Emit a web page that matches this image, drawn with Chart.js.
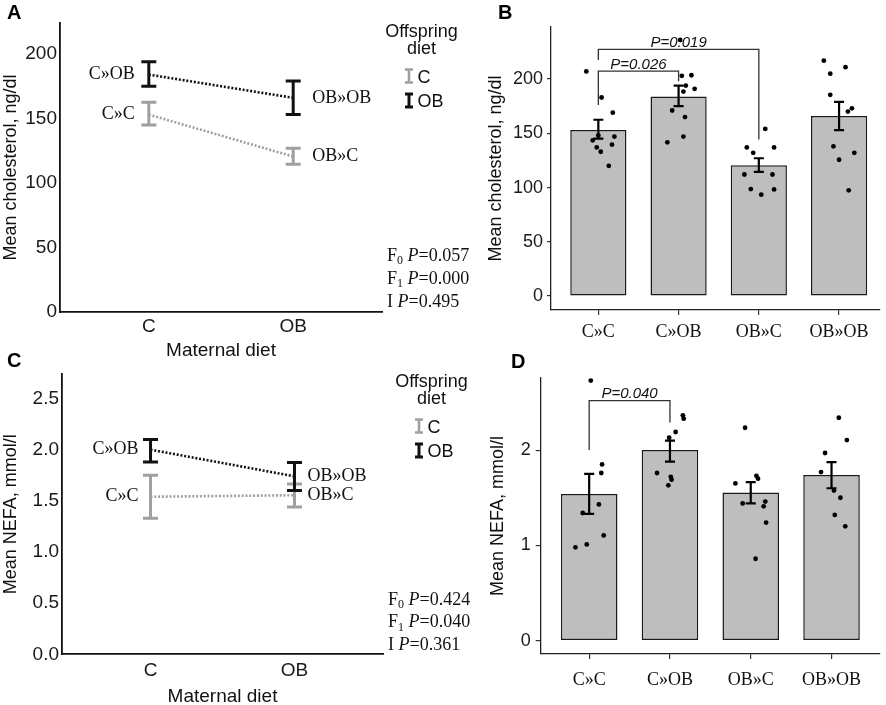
<!DOCTYPE html>
<html>
<head>
<meta charset="utf-8">
<script src="https://cdn.jsdelivr.net/npm/chart.js@4.4.0/dist/chart.umd.min.js"></script>
<style>
  html, body { margin: 0; padding: 0; background: #fff; }
  #wrap { position: relative; width: 886px; height: 705px; overflow: hidden; }
  canvas { position: absolute; left: 0; top: 0; }
</style>
</head>
<body>
<div id="wrap">
  <canvas id="chartA" width="886" height="705"></canvas>
  <canvas id="chartB" width="886" height="705"></canvas>
  <canvas id="chartC" width="886" height="705"></canvas>
  <canvas id="chartD" width="886" height="705"></canvas>
</div>
<script>
// groups: maternal diet » offspring diet
const groups = ["C»C", "C»OB", "OB»C", "OB»OB"];
const maternalDiet = ["C", "OB"];
const offspringDiet = ["C", "OB"];

// cholesterol, ng/dl (mean and SEM range)
const cholMean = [153, 184, 120.5, 166];
const cholLow = [145, 175, 114.5, 153];
const cholHigh = [162.5, 194, 127, 179];
const cholTicks = [0, 50, 100, 150, 200];
const cholPoints = [
  [207, 183, 169, 143.5, 148, 147, 137, 139.5, 133, 120],
  [236, 203, 203.5, 194, 191, 188.5, 171, 165, 141.7, 147],
  [154, 137, 132, 137, 112, 112, 98.6, 98.3, 93.4],
  [217, 211, 205, 185.5, 173, 170, 138, 132, 125.6, 97.4]
];
const cholJitter = [
  [-0.15, 0.04, 0.18, -0.07, 0, 0.2, -0.02, 0.17, 0.03, 0.13],
  [0.02, 0.04, 0.16, 0.09, 0.2, 0.06, -0.08, 0.08, -0.14, 0.06],
  [0.08, -0.15, -0.07, 0.19, -0.18, 0.17, -0.1, 0.19, 0.03],
  [-0.19, 0.08, -0.11, -0.11, 0.16, 0.11, -0.07, 0.19, 0, 0.12]
];
const cholStats = ["0.057", "0.000", "0.495"];
// [group a, group b, label, bracket top, leg end a, leg end b]
const cholTests = [
  [0, 1, "P=0.026", 207.4, 176, 198],
  [0, 2, "P=0.019", 227.3, 217.5, 144.4]
];

// NEFA, mmol/l
const nefaMean = [1.54, 2.0, 1.555, 1.74];
const nefaLow = [1.33, 1.88, 1.44, 1.6];
const nefaHigh = [1.75, 2.1, 1.665, 1.875];
const nefaTicksC = [0, 0.5, 1, 1.5, 2, 2.5];
const nefaTicksD = [0, 1, 2];
const nefaPoints = [
  [2.73, 1.85, 1.76, 1.43, 1.34, 1.105, 1.01, 0.98],
  [2.365, 2.33, 2.19, 2.13, 1.76, 1.72, 1.69, 1.63],
  [2.235, 1.65, 1.73, 1.70, 1.44, 1.46, 1.41, 1.24, 0.86],
  [2.34, 2.105, 1.97, 1.77, 1.575, 1.50, 1.32, 1.20]
];
const nefaJitter = [
  [0.02, 0.16, 0.15, 0.12, -0.08, 0.18, -0.03, -0.17],
  [0.16, 0.17, 0.07, -0.01, -0.16, 0.01, 0.02, -0.02],
  [-0.07, -0.19, 0.07, 0.09, -0.1, 0.18, 0.16, 0.19, 0.06],
  [0.09, 0.19, -0.08, -0.13, 0.03, 0.11, 0.04, 0.17]
];
const nefaStats = ["0.424", "0.040", "0.361"];
const nefaTests = [[0, 1, "P=0.040", 2.52, 2.0, 2.29]];

const SANS = "'Liberation Sans', Arial, sans-serif";
const SERIF = "'Liberation Serif', 'Times New Roman', serif";
const INK = '#111';
const GREY = '#a0a0a0';

function drawLetter(ctx, l) {
  ctx.font = 'bold 20px ' + SANS;
  ctx.fillStyle = '#000';
  ctx.textAlign = 'left';
  ctx.textBaseline = 'middle';
  ctx.fillText(l[0], l[1], l[2]);
}

// interaction plot (panels A and C)
function interactionPanel(id, o) {
  const color = f => f ? INK : GREY;
  const datasets = offspringDiet.map((d, f) => ({
    label: d,
    data: maternalDiet.map((m, mi) => ({ x: mi + 1, y: o.mean[mi * 2 + f] })),
    borderColor: color(f),
    borderWidth: 2.6,
    borderDash: [2, 1.8],
    pointRadius: 0,
    tension: 0
  }));

  const overlay = {
    id: 'overlay',
    afterDatasetsDraw(chart) {
      const { ctx, scales: { x, y } } = chart;
      ctx.save();
      groups.forEach((g, i) => {
        const mi = Math.floor(i / 2), f = i % 2;
        const px = x.getPixelForValue(mi + 1);
        const yl = y.getPixelForValue(o.low[i]);
        const yh = y.getPixelForValue(o.high[i]);
        ctx.strokeStyle = color(f);
        ctx.lineWidth = 3;
        ctx.beginPath();
        ctx.moveTo(px, yl); ctx.lineTo(px, yh);
        ctx.moveTo(px - 7.5, yl); ctx.lineTo(px + 7.5, yl);
        ctx.moveTo(px - 7.5, yh); ctx.lineTo(px + 7.5, yh);
        ctx.stroke();
        ctx.font = '18px ' + SERIF;
        ctx.fillStyle = INK;
        ctx.textBaseline = 'middle';
        ctx.textAlign = mi ? 'left' : 'right';
        ctx.fillText(g, px + (mi ? o.gap[1] : -o.gap[0]), y.getPixelForValue(o.mean[i]));
      });

      // legend
      const [lx, ly] = o.legend;
      ctx.font = '18px ' + SANS;
      ctx.fillStyle = INK;
      ctx.textAlign = 'center';
      ctx.fillText('Offspring', lx, ly);
      ctx.fillText('diet', lx, ly + 17);
      offspringDiet.forEach((d, f) => {
        const gy = ly + 44 + f * 24.5;
        ctx.strokeStyle = color(f);
        ctx.lineWidth = f ? 3 : 2.6;
        ctx.beginPath();
        ctx.moveTo(lx - 12.5, gy - 6.5); ctx.lineTo(lx - 12.5, gy + 6.5);
        ctx.moveTo(lx - 16.5, gy - 6.5); ctx.lineTo(lx - 8.5, gy - 6.5);
        ctx.moveTo(lx - 16.5, gy + 6.5); ctx.lineTo(lx - 8.5, gy + 6.5);
        ctx.stroke();
        ctx.textAlign = 'left';
        ctx.fillStyle = INK;
        ctx.fillText(d, lx - 4, gy + 2);
      });

      // ANOVA results
      const names = [['F', '0'], ['F', '1'], ['I', '']];
      ctx.textAlign = 'left';
      ctx.fillStyle = INK;
      o.stats.forEach((p, k) => {
        const ty = o.statsAt[1] + k * o.statsAt[2];
        let tx = o.statsAt[0];
        ctx.font = '18px ' + SERIF;
        ctx.fillText(names[k][0], tx, ty);
        tx += ctx.measureText(names[k][0]).width;
        if (names[k][1]) {
          ctx.font = '12px ' + SERIF;
          ctx.fillText(names[k][1], tx, ty + 5);
          tx += ctx.measureText(names[k][1]).width;
        }
        tx += 4.5;
        ctx.font = 'italic 18px ' + SERIF;
        ctx.fillText('P', tx, ty);
        tx += ctx.measureText('P').width;
        ctx.font = '18px ' + SERIF;
        ctx.fillText('=' + p, tx, ty);
      });

      drawLetter(ctx, o.letter);
      ctx.restore();
    }
  };

  return new Chart(document.getElementById(id), {
    type: 'line',
    data: { datasets },
    plugins: [overlay],
    options: {
      responsive: false,
      animation: false,
      events: [],
      layout: { padding: o.padding },
      plugins: { legend: { display: false }, tooltip: { enabled: false } },
      scales: {
        x: {
          type: 'linear',
          min: 0.385,
          max: 2.615,
          afterBuildTicks: s => { s.ticks = maternalDiet.map((m, i) => ({ value: i + 1 })); },
          afterFit: s => { s.height = o.xh; },
          grid: { display: false, drawTicks: false },
          border: { display: true, color: INK, width: 1.8 },
          ticks: {
            callback: v => maternalDiet[v - 1],
            font: { family: SANS, size: 19 }, color: '#1a1a1a',
            padding: o.xPad, maxRotation: 0, autoSkip: false
          },
          title: {
            display: true, text: 'Maternal diet',
            font: { family: SANS, size: 19 }, color: INK,
            padding: { top: 0, bottom: o.xTitlePad }
          }
        },
        y: {
          min: 0,
          max: o.yMax,
          afterBuildTicks: s => { s.ticks = o.ticks.map(v => ({ value: v })); },
          afterFit: s => { s.width = o.yw; },
          grid: { display: false, drawTicks: false },
          border: { display: true, color: INK, width: 1.8 },
          ticks: {
            callback: o.fmt,
            font: { family: SANS, size: 19 }, color: '#1a1a1a', padding: 3
          },
          title: {
            display: true, text: o.yTitle,
            font: { family: SANS, size: 18 }, color: INK,
            padding: { top: 0, bottom: 0 }
          }
        }
      }
    }
  });
}

// bar + dot plot (panels B and D)
function barPanel(id, o) {
  const dots = [];
  o.points.forEach((vals, i) => vals.forEach((v, k) => dots.push({ x: i + 1 + o.jitter[i][k], y: v })));

  const datasets = [
    {
      type: 'scatter', order: 0, data: dots,
      pointRadius: 2.4, pointBackgroundColor: '#000', pointBorderWidth: 0
    },
    {
      type: 'bar', order: 1,
      data: groups.map((g, i) => ({ x: i + 1, y: o.mean[i] })),
      backgroundColor: '#bebebe', borderColor: '#1a1a1a', borderWidth: 1.5,
      borderSkipped: false, barPercentage: 0.7, categoryPercentage: 1
    }
  ];

  const overlay = {
    id: 'overlay',
    afterDatasetsDraw(chart) {
      const { ctx, scales: { x, y } } = chart;
      ctx.save();
      // SEM bars
      ctx.strokeStyle = '#000';
      ctx.lineWidth = 2.2;
      groups.forEach((g, i) => {
        const px = x.getPixelForValue(i + 1);
        const yl = y.getPixelForValue(o.low[i]);
        const yh = y.getPixelForValue(o.high[i]);
        ctx.beginPath();
        ctx.moveTo(px, yl); ctx.lineTo(px, yh);
        ctx.moveTo(px - 5, yl); ctx.lineTo(px + 5, yl);
        ctx.moveTo(px - 5, yh); ctx.lineTo(px + 5, yh);
        ctx.stroke();
      });
      // comparison brackets
      o.tests.forEach(([a, b, label, top, ea, eb]) => {
        const xa = x.getPixelForValue(a + 1), xb = x.getPixelForValue(b + 1);
        const yt = y.getPixelForValue(top);
        ctx.strokeStyle = '#333';
        ctx.lineWidth = 1.3;
        ctx.beginPath();
        ctx.moveTo(xa, y.getPixelForValue(ea));
        ctx.lineTo(xa, yt);
        ctx.lineTo(xb, yt);
        ctx.lineTo(xb, y.getPixelForValue(eb));
        ctx.stroke();
        ctx.font = 'italic 15px ' + SANS;
        ctx.fillStyle = INK;
        ctx.textAlign = 'center';
        ctx.textBaseline = 'alphabetic';
        ctx.fillText(label, (xa + xb) / 2, yt - 2.5);
      });
      drawLetter(ctx, o.letter);
      ctx.restore();
    }
  };

  return new Chart(document.getElementById(id), {
    type: 'bar',
    data: { datasets },
    plugins: [overlay],
    options: {
      responsive: false,
      animation: false,
      events: [],
      clip: false,
      layout: { padding: o.padding },
      plugins: { legend: { display: false }, tooltip: { enabled: false } },
      scales: {
        x: {
          type: 'linear',
          offset: false,
          min: o.xMin,
          max: o.xMax,
          afterBuildTicks: s => { s.ticks = groups.map((g, i) => ({ value: i + 1 })); },
          afterFit: s => { s.height = o.xh; },
          grid: { display: true, drawOnChartArea: false, drawTicks: true, tickLength: 5, color: '#333', lineWidth: 1.2, offset: false },
          border: { display: true, color: '#222', width: 1.3 },
          ticks: {
            callback: v => groups[v - 1],
            font: { family: SERIF, size: 18 }, color: INK,
            padding: o.xPad, maxRotation: 0, autoSkip: false
          }
        },
        y: {
          min: o.yMin,
          max: o.yMax,
          afterBuildTicks: s => { s.ticks = o.ticks.map(v => ({ value: v })); },
          afterFit: s => { s.width = o.yw; },
          grid: { display: true, drawOnChartArea: false, drawTicks: true, tickLength: o.yTick, color: '#333', lineWidth: 1.2 },
          border: { display: true, color: '#222', width: 1.3 },
          ticks: {
            font: { family: SANS, size: 18 }, color: '#1a1a1a', padding: o.yPad
          },
          title: {
            display: true, text: o.yTitle,
            font: { family: SANS, size: 18 }, color: INK,
            padding: { top: 0, bottom: 0 }
          }
        }
      }
    }
  });
}

interactionPanel('chartA', {
  mean: cholMean, low: cholLow, high: cholHigh, ticks: cholTicks,
  fmt: v => String(v), yMax: 224, yTitle: 'Mean cholesterol, ng/dl',
  padding: { left: 0, top: 23, right: 504, bottom: 341 }, yw: 60, xh: 52,
  xPad: 3, xTitlePad: 2, gap: [14, 19],
  legend: [421.5, 32], statsAt: [387, 256, 23], stats: cholStats,
  letter: ['A', 7, 13]
});

barPanel('chartB', {
  mean: cholMean, low: cholLow, high: cholHigh, ticks: cholTicks,
  points: cholPoints, jitter: cholJitter, tests: cholTests,
  yMin: -12.9, yMax: 248, xMin: 0.41, xMax: 4.51,
  yTitle: 'Mean cholesterol, ng/dl',
  padding: { left: 485, top: 27, right: 6, bottom: 355 }, yw: 66, xh: 40,
  xPad: 6, yPad: 4, yTick: 4,
  letter: ['B', 498, 13]
});

interactionPanel('chartC', {
  mean: nefaMean, low: nefaLow, high: nefaHigh, ticks: nefaTicksC,
  fmt: v => v.toFixed(1), yMax: 2.74, yTitle: 'Mean NEFA, mmol/l',
  padding: { left: 0, top: 374, right: 503, bottom: 0 }, yw: 62, xh: 50.7,
  xPad: 5, xTitlePad: -2.8, gap: [12, 13],
  legend: [431.5, 382], statsAt: [388, 600, 22.5], stats: nefaStats,
  letter: ['C', 7, 361]
});

barPanel('chartD', {
  mean: nefaMean, low: nefaLow, high: nefaHigh, ticks: nefaTicksD,
  points: nefaPoints, jitter: nefaJitter, tests: nefaTests,
  yMin: -0.14, yMax: 2.757, xMin: 0.4, xMax: 4.6,
  yTitle: 'Mean NEFA, mmol/l',
  padding: { left: 487, top: 378, right: 6, bottom: 6 }, yw: 53.7, xh: 45,
  xPad: 10, yPad: 5, yTick: 5,
  letter: ['D', 511, 362]
});
</script>
</body>
</html>
